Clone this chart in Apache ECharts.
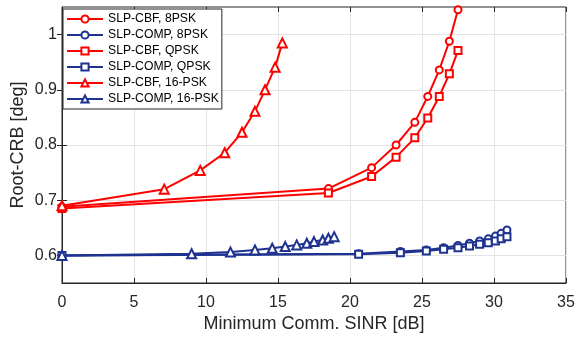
<!DOCTYPE html>
<html>
<head>
<meta charset="utf-8">
<script src="https://cdn.jsdelivr.net/npm/echarts@6/dist/echarts.min.js"></script>
<style>
  html, body { margin: 0; padding: 0; background: #fff; }
  #chart { width: 576px; height: 337px; }
</style>
</head>
<body>
<div id="chart"></div>
<script>
// SINR [dB] / Root-CRB [deg]
const cbf8X = [0, 18.5, 21.5, 23.2, 24.5, 25.4, 26.2, 26.9, 27.5]
const cbf8Y = [0.688, 0.721, 0.759, 0.800, 0.841, 0.888, 0.936, 0.988, 1.045]
const cbfQX = [0, 18.5, 21.5, 23.2, 24.5, 25.4, 26.2, 26.9, 27.5]
const cbfQY = [0.685, 0.713, 0.743, 0.778, 0.813, 0.849, 0.888, 0.929, 0.971]
const cbf16X = [0, 7.1, 9.6, 11.3, 12.5, 13.4, 14.1, 14.8, 15.3]
const cbf16Y = [0.690, 0.720, 0.754, 0.786, 0.823, 0.861, 0.900, 0.941, 0.985]
const comp8X = [0, 20.6, 23.5, 25.3, 26.5, 27.5, 28.3, 29.0, 29.6, 30.1, 30.5, 30.9]
const comp8Y = [0.600, 0.603, 0.607, 0.610, 0.614, 0.618, 0.622, 0.626, 0.630, 0.635, 0.640, 0.646]
const compQX = [0, 20.6, 23.5, 25.3, 26.5, 27.5, 28.3, 29.0, 29.6, 30.1, 30.5, 30.9]
const compQY = [0.600, 0.602, 0.605, 0.608, 0.611, 0.614, 0.617, 0.620, 0.623, 0.626, 0.630, 0.634]
const comp16X = [0, 9.0, 11.7, 13.4, 14.6, 15.5, 16.3, 17.0, 17.5, 18.1, 18.5, 18.9]
const comp16Y = [0.600, 0.603, 0.606, 0.610, 0.613, 0.616, 0.619, 0.622, 0.625, 0.628, 0.631, 0.634]
const yTicks = [0.6, 0.7, 0.8, 0.9, 1.0]

const RED = '#ff0000'
const BLUE = '#1e3290'
const AXIS = '#262626'
const FONT = 'Liberation Sans'

const zip = (xs, ys) => xs.map((x, i) => [x, ys[i]])

function mkSeries(name, xs, ys, color, symbol) {
  return {
    name: name,
    type: 'line',
    data: zip(xs, ys),
    symbol: symbol,
    symbolSize: symbol === 'emptyTriangle' ? 9 : 7,
    lineStyle: { color: color, width: 2 },
    itemStyle: { color: color, borderColor: color, borderWidth: 1.8 },
    animation: false,
  }
}

let myChart = echarts.init(document.getElementById('chart'), null, { renderer: 'canvas' })
let option = {
  backgroundColor: '#fff',
  textStyle: { fontFamily: FONT },
  grid: {
    left: 62, right: 10, top: 7, bottom: 54,
    outerBoundsMode: 'none',
    show: true, borderColor: AXIS, borderWidth: 1,
  },
  legend: {
    orient: 'vertical',
    left: 63, top: 9,
    itemWidth: 36, itemHeight: 9, itemGap: 2,
    padding: [3, 3, 3, 3],
    backgroundColor: '#fff',
    borderColor: AXIS, borderWidth: 1, borderRadius: 0,
    textStyle: { fontFamily: FONT, fontSize: 12.2, color: '#000', lineHeight: 14 },
  },
  xAxis: [
    {
      type: 'value', min: 0, max: 35, interval: 5,
      name: 'Minimum Comm. SINR [dB]', nameLocation: 'middle', nameGap: 32,
      nameMoveOverlap: false,
      nameTextStyle: { fontFamily: FONT, fontSize: 18, color: AXIS },
      axisLine: { lineStyle: { color: AXIS } },
      axisTick: { inside: true, length: 5, lineStyle: { color: AXIS } },
      axisLabel: { margin: 12, fontFamily: FONT, fontSize: 16, color: AXIS },
      splitLine: { show: true, lineStyle: { color: '#e3e3e3', width: 1 } },
    },
    {
      type: 'value', position: 'top', min: 0, max: 35, interval: 5,
      axisLine: { show: false },
      axisTick: { inside: true, length: 5, lineStyle: { color: AXIS } },
      axisLabel: { show: false }, splitLine: { show: false },
    },
  ],
  yAxis: [
    {
      type: 'value', min: 0.55, max: 1.05,
      name: 'Root-CRB [deg]', nameLocation: 'middle', nameGap: 35,
      nameMoveOverlap: false,
      nameTextStyle: { fontFamily: FONT, fontSize: 18, color: AXIS },
      axisLine: { show: true, lineStyle: { color: AXIS } },
      axisTick: { show: true, inside: true, length: 5, customValues: yTicks, lineStyle: { color: AXIS } },
      axisLabel: {
        margin: 5, fontFamily: FONT, fontSize: 16, color: AXIS, customValues: yTicks,
        formatter: (v) => String(Math.round(v * 10) / 10),
      },
      splitLine: { show: true, lineStyle: { color: '#e3e3e3', width: 1 } },
    },
    {
      type: 'value', position: 'right', min: 0.55, max: 1.05,
      axisLine: { show: false },
      axisTick: { show: true, inside: true, length: 5, customValues: yTicks, lineStyle: { color: AXIS } },
      axisLabel: { show: false, customValues: yTicks }, splitLine: { show: false },
    },
  ],
  series: [
    mkSeries('SLP-CBF, 8PSK', cbf8X, cbf8Y, RED, 'emptyCircle'),
    mkSeries('SLP-COMP, 8PSK', comp8X, comp8Y, BLUE, 'emptyCircle'),
    mkSeries('SLP-CBF, QPSK', cbfQX, cbfQY, RED, 'emptyRect'),
    mkSeries('SLP-COMP, QPSK', compQX, compQY, BLUE, 'emptyRect'),
    mkSeries('SLP-CBF, 16-PSK', cbf16X, cbf16Y, RED, 'emptyTriangle'),
    mkSeries('SLP-COMP, 16-PSK', comp16X, comp16Y, BLUE, 'emptyTriangle'),
  ],
}
myChart.setOption(option)
</script>
</body>
</html>
